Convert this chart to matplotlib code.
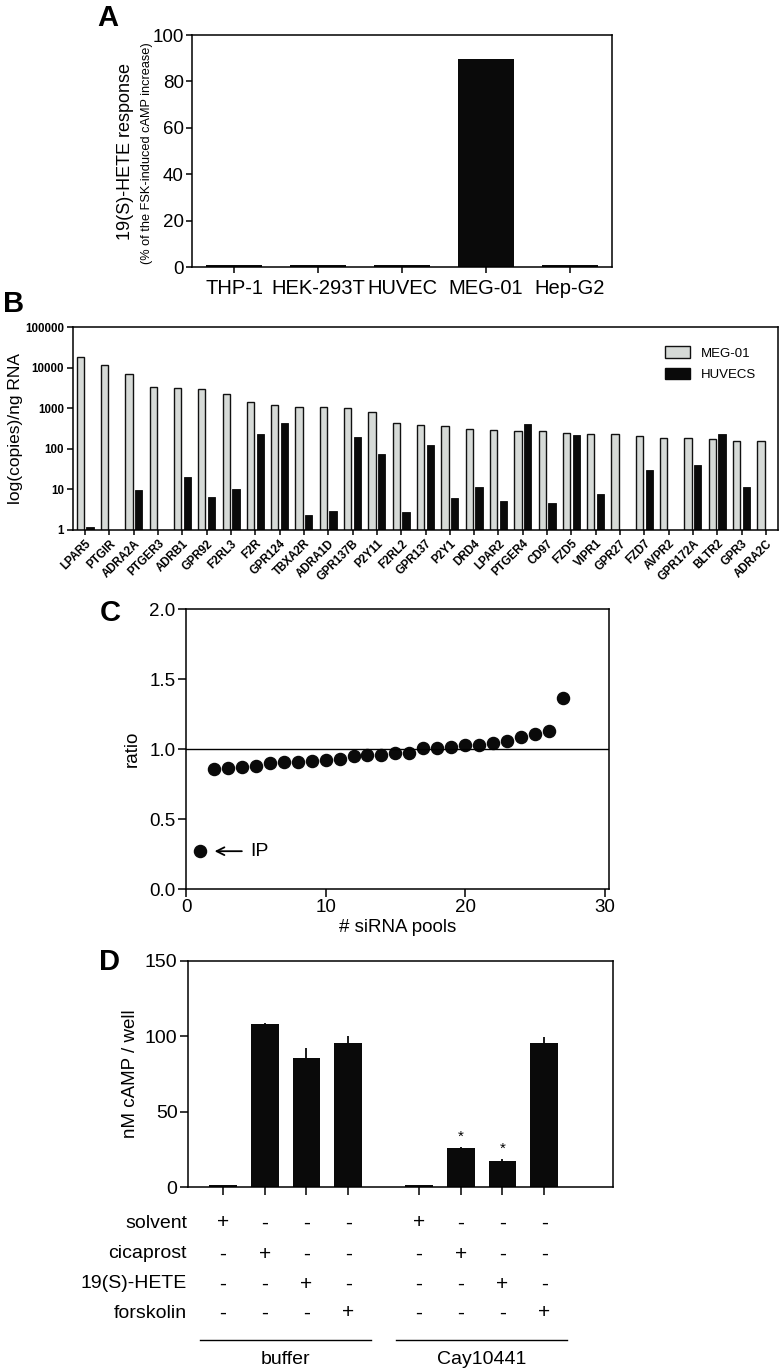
import numpy as np
import matplotlib
matplotlib.use('Agg')
import matplotlib.pyplot as plt
from matplotlib import transforms
from matplotlib.lines import Line2D
from matplotlib.patches import Patch

plt.rcParams['font.family'] = ['Liberation Sans', 'DejaVu Sans']
plt.rcParams['axes.linewidth'] = 1.1

# ---------------- donnees ----------------
# A : reponse 19(S)-HETE par lignee
cell_lines = ['THP-1', 'HEK-293T', 'HUVEC', 'MEG-01', 'Hep-G2']
hete_response = [0.7, 0.7, 0.7, 89.8, 0.7]

# B : expression des GPCR (copies / ng RNA)
genes = ['LPAR5', 'PTGIR', 'ADRA2A', 'PTGER3', 'ADRB1', 'GPR92', 'F2RL3', 'F2R',
         'GPR124', 'TBXA2R', 'ADRA1D', 'GPR137B', 'P2Y11', 'F2RL2', 'GPR137',
         'P2Y1', 'DRD4', 'LPAR2', 'PTGER4', 'CD97', 'FZD5', 'VIPR1', 'GPR27',
         'FZD7', 'AVPR2', 'GPR172A', 'BLTR2', 'GPR3', 'ADRA2C']
meg01 = [18200, 11400, 6900, 3330, 3230, 2930, 2200, 1430, 1230, 1070, 1070, 1020,
         800, 435, 375, 355, 315, 283, 277, 267, 246, 238, 229, 209, 183, 183,
         176, 158, 155]
huvecs = [1.16, np.nan, 9.6, np.nan, 20.5, 6.4, 10, 238, 420, 2.3, 3.0, 197,
          74, 2.7, 123, 6.2, 11.2, 5.1, 397, 4.5, 220, 7.8, np.nan, 30.5, np.nan,
          40, 234, 11.4, np.nan]

# C : criblage siRNA
pools = list(range(1, 28))
ratio = [0.27, 0.857, 0.866, 0.87, 0.88, 0.90, 0.905, 0.91, 0.913, 0.925, 0.93,
         0.947, 0.96, 0.96, 0.97, 0.97, 1.01, 1.01, 1.017, 1.026, 1.03, 1.045,
         1.06, 1.088, 1.107, 1.129, 1.364]

# D : cAMP
conditions = ['solvent', 'cicaprost', '19(S)-HETE', 'forskolin']
groups = ['buffer', 'Cay10441']
camp_mean = [1, 108, 85.5, 95.5, 1, 26, 17, 95.5]
camp_err = [0, 1, 6.5, 4.5, 0, 0.7, 1.5, 4.3]
signif = [False, False, False, False, False, True, True, False]

# ---------------- figure ----------------
W, H = 783, 1371
fig = plt.figure(figsize=(W / 100, H / 100), dpi=100)


def rect(x0, y0, x1, y1):
    # pixels -> coordonnees figure
    return [x0 / W, 1 - y1 / H, (x1 - x0) / W, (y1 - y0) / H]


def fx(x):
    return x / W


def fy(y):
    return 1 - y / H


def letter(x, y, s):
    fig.text(fx(x), fy(y), s, fontsize=21, fontweight='bold', ha='left', va='center')


# ---- A ----
axA = fig.add_axes(rect(192, 35, 612, 267))
xa = np.arange(len(cell_lines))
axA.bar(xa, hete_response, width=0.67, color='#0a0a0a')
axA.set_xlim(-0.5, len(cell_lines) - 0.5)
axA.set_ylim(0, 100)
axA.set_yticks([0, 20, 40, 60, 80, 100])
axA.set_xticks(xa)
axA.set_xticklabels(cell_lines, fontsize=14.5)
axA.tick_params(axis='y', labelsize=13.5, length=4, width=1.1, pad=2)
axA.tick_params(axis='x', length=4, width=1.1, pad=5)
fig.text(fx(126), fy(151), '19(S)-HETE response', rotation=90, fontsize=13,
         ha='center', va='center')
fig.text(fx(147), fy(153), '(% of the FSK-induced cAMP increase)', rotation=90,
         fontsize=9.2, ha='center', va='center')
letter(97, 18, 'A')

# ---- B ----
axB = fig.add_axes(rect(73, 327, 778, 530))
xb = np.arange(len(genes))
axB.set_yscale('log')
axB.bar(xb - 0.2, meg01, width=0.3, color='#d6dad7', edgecolor='#111111', linewidth=1.0)
hv = np.array(huvecs, dtype=float)
ok = ~np.isnan(hv)
axB.bar(xb[ok] + 0.2, hv[ok], width=0.3, color='#0a0a0a', edgecolor='#0a0a0a', linewidth=0.6)
axB.set_ylim(1, 100000)
axB.set_xlim(-0.5, len(genes) - 0.5)
axB.set_yticks([1, 10, 100, 1000, 10000, 100000])
axB.set_yticklabels(['1', '10', '100', '1000', '10000', '100000'], fontweight='bold')
axB.yaxis.set_minor_locator(matplotlib.ticker.NullLocator())
axB.set_xticks(xb)
axB.set_xticklabels(genes, rotation=45, ha='right', rotation_mode='anchor',
                    fontsize=8.3, fontweight='bold')
axB.tick_params(axis='y', labelsize=8.3, length=4.5, width=1.1, pad=2)
axB.tick_params(axis='x', length=3.5, width=1.1, pad=2)
axB.set_ylabel('log(copies)/ng RNA', fontsize=12.5)
axB.yaxis.set_label_coords((23 - 73) / 705, 0.5)
handles = [Patch(facecolor='#d6dad7', edgecolor='#111111', linewidth=1.0, label='MEG-01'),
           Patch(facecolor='#0a0a0a', edgecolor='#0a0a0a', label='HUVECS')]
fig.legend(handles=handles, loc='upper left', bbox_to_anchor=(fx(656), fy(337)),
           frameon=False, fontsize=9.5, handlelength=1.9, handleheight=1.0,
           handletextpad=0.8, labelspacing=0.6, borderpad=0.2)
letter(3, 304, 'B')

# ---- C ----
axC = fig.add_axes(rect(186, 609, 609, 889))
axC.plot(pools, ratio, 'o', color='#0a0a0a', markersize=8.7, clip_on=False)
axC.axhline(1.0, color='black', linewidth=1.0)
axC.set_xlim(0, 30.3)
axC.set_ylim(0, 2.0)
axC.set_xticks([0, 10, 20, 30])
axC.set_yticks([0, 0.5, 1.0, 1.5, 2.0])
axC.set_yticklabels(['0.0', '0.5', '1.0', '1.5', '2.0'])
axC.tick_params(labelsize=13.5, length=5.5, width=1.1, pad=2)
axC.set_xlabel('# siRNA pools', fontsize=13.5, labelpad=2)
axC.set_ylabel('ratio', fontsize=13.5)
axC.yaxis.set_label_coords((141 - 186) / 423, 0.5)
axC.annotate('', xy=(pools[0] + 0.85, ratio[0]), xytext=(pools[0] + 3.2, ratio[0]),
             arrowprops=dict(arrowstyle='->', color='black', linewidth=1.3,
                             mutation_scale=14))
axC.text(pools[0] + 3.6, ratio[0], 'IP', fontsize=14, va='center', ha='left')
letter(100, 613, 'C')

# ---- D ----
axD = fig.add_axes(rect(188, 961, 613, 1187))
xd = np.arange(len(camp_mean)) + 0.7 * (np.arange(len(camp_mean)) >= 4)
axD.bar(xd, camp_mean, width=0.66, color='#0a0a0a')
axD.errorbar(xd, camp_mean, yerr=[np.zeros(len(camp_err)), camp_err], fmt='none',
             ecolor='#0a0a0a', elinewidth=1.3, capsize=0)
for x, m, e, s in zip(xd, camp_mean, camp_err, signif):
    if s:
        axD.text(x, m + e + 2, '*', ha='center', va='bottom', fontsize=11)
axD.set_xlim(-0.84, 9.35)
axD.set_ylim(0, 150)
axD.set_yticks([0, 50, 100, 150])
axD.set_xticks(xd)
axD.set_xticklabels([])
axD.tick_params(axis='y', labelsize=14, length=5.5, width=1.1, pad=2)
axD.tick_params(axis='x', length=5.5, width=1.1)
axD.set_ylabel('nM cAMP / well', fontsize=13.5)
axD.yaxis.set_label_coords((139 - 188) / 425, 0.5)
letter(99, 962, 'D')

# tableau des traitements sous le graphique D
tr = transforms.blended_transform_factory(axD.transData, fig.transFigure)
row_y = [1223, 1254, 1284, 1313]
for i, (cond, yy) in enumerate(zip(conditions, row_y)):
    fig.text(fx(187), fy(yy), cond, fontsize=14, ha='right', va='center')
    for j, x in enumerate(xd):
        sign = '+' if j % 4 == i else '-'
        fig.text(x, fy(yy), sign, transform=tr, fontsize=15, ha='center', va='center')
for g, name in enumerate(groups):
    xs = xd[4 * g:4 * g + 4]
    fig.add_artist(Line2D([xs[0] - 0.55, xs[-1] + 0.55], [fy(1340), fy(1340)],
                          transform=tr, color='black', linewidth=1.0))
    fig.text(xs.mean(), fy(1359), name, transform=tr, fontsize=14,
             ha='center', va='center')

fig.savefig('out.png', dpi=100)
